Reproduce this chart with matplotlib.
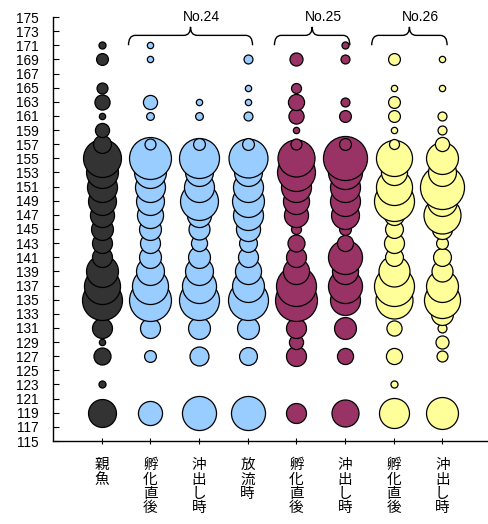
import matplotlib
matplotlib.use("Agg")
import matplotlib.pyplot as plt
from matplotlib.path import Path
from matplotlib.patches import PathPatch
import numpy as np

plt.rcParams['font.family'] = ['Liberation Sans', 'Noto Sans CJK JP', 'DejaVu Sans']

# body length classes (odd values 119..171)
lengths = list(range(119, 172, 2))

categories = ["親魚", "孵化直後", "沖出し時", "放流時", "孵化直後", "沖出し時", "孵化直後", "沖出し時"]

# relative frequencies (bubble area) per length class, ordered 119 -> 171
oyauo      = [7.8,0,0.5,0,2.9,0.4,4.0,0,16.0,13.0,10.2,4.0,4.0,4.8,5.8,7.8,9.0,10.2,14.4,3.2,2.0,0.4,2.3,1.2,0,1.4,0.5]
no24_fuka  = [5.8,0,0,0,1.4,0,4.0,0,17.6,13.0,7.8,4.8,4.0,4.8,6.8,7.8,9.0,10.2,17.6,1.2,0,0.6,2.0,0,0,0.4,0.4]
no24_okida = [11.6,0,0,0,3.6,0,4.8,0,16.0,11.6,7.8,4.8,2.6,4.4,5.8,14.4,9.0,7.8,16.0,1.4,0,0.6,0.4,0,0,0,0]
no24_horyu = [11.6,0,0,0,3.2,0,4.8,0,16.0,10.2,6.8,4.0,3.2,5.8,9.0,10.2,9.0,7.8,15.2,1.4,0,0.8,0.4,0.4,0,0.8,0]
no25_fuka  = [4.0,0,0,0,4.0,2.0,4.0,0,17.6,16.0,6.8,4.0,2.9,1.0,5.8,6.8,9.0,14.4,13.7,1.2,0.4,2.3,2.6,1.0,0,1.7,0]
no25_okida = [7.3,0,0,0,2.6,0,4.8,0,9.0,11.6,6.8,11.6,2.6,1.4,7.8,9.0,9.0,11.6,19.4,1.4,0,1.4,0.8,0,0,0.8,0.5]
no26_fuka  = [9.0,0,0.5,0,2.6,0,2.3,0,13.7,16.0,9.6,3.2,4.0,3.2,4.0,16.0,13.0,6.8,13.0,1.0,0.4,1.4,1.4,0.4,0,1.4,0]
no26_okida = [10.2,0,0,0,1.2,1.7,0.8,4.8,13.0,10.2,4.4,3.2,1.4,4.0,13.7,9.0,19.4,7.8,10.2,2.0,0.8,0.8,0,0.4,0,0.4,0]

series = [oyauo, no24_fuka, no24_okida, no24_horyu, no25_fuka, no25_okida, no26_fuka, no26_okida]
colors = ["#333333", "#99CCFF", "#99CCFF", "#99CCFF", "#993366", "#993366", "#FFFF99", "#FFFF99"]

groups = [("No.24", 2, 4), ("No.25", 5, 6), ("No.26", 7, 8)]

W, H = 489, 524
fig = plt.figure(figsize=(W / 100, H / 100), dpi=100)
ax = fig.add_axes([53.1 / W, 1 - 441 / H, 437.8 / W, (441 - 17) / H])

scale = 51.84
for i, (vals, col) in enumerate(zip(series, colors)):
    for L, v in zip(lengths, vals):
        if v > 0:
            ax.scatter([i + 1], [L], s=v * scale, c=col, edgecolors="black", linewidths=0.9, zorder=3)

ax.set_xlim(0, 9)
ax.set_ylim(115, 175)
ax.set_yticks(range(115, 176, 2))
ax.set_xticks(range(1, len(categories) + 1))
ax.set_xticklabels(["\n".join(c) for c in categories], fontsize=10.5, linespacing=1.02,
                   family=['Noto Sans CJK JP', 'DejaVu Sans'])
ax.tick_params(axis='y', direction='in', length=4, width=0.8, labelsize=9.8, pad=10.5)
ax.tick_params(axis='x', direction='inout', length=5, width=0.8, pad=10)
for lab in ax.get_xticklabels():
    lab.set_verticalalignment('top')
ax.spines['top'].set_visible(False)
ax.spines['right'].set_visible(False)
ax.spines['left'].set_linewidth(1.0)
ax.spines['bottom'].set_linewidth(1.0)

# curly braces above groups
def brace(ax, x0, x1, yb, yt, yp):
    xc = (x0 + x1) / 2
    r = 0.14
    verts = [(x0, yb), (x0, yt), (x0 + r, yt), (x0 + r, yt),
             (xc - r, yt), (xc, yt), (xc, yp),
             (xc, yt), (xc + r, yt), (xc + r, yt),
             (x1 - r, yt), (x1, yt), (x1, yb)]
    codes = [Path.MOVETO, Path.CURVE3, Path.CURVE3, Path.LINETO,
             Path.LINETO, Path.CURVE3, Path.CURVE3,
             Path.CURVE3, Path.CURVE3, Path.LINETO,
             Path.LINETO, Path.CURVE3, Path.CURVE3]
    p = PathPatch(Path(verts, codes), fill=False, lw=1.0, ec="black", clip_on=False)
    ax.add_patch(p)

for name, a, b in groups:
    x0, x1 = a - 0.45, b + 0.1
    brace(ax, x0, x1, 171.0, 172.4, 173.6)
    xc = (x0 + x1) / 2
    ax.text(xc - 0.15, 175.0, name, ha='left', va='center', fontsize=10, clip_on=False)

fig.savefig("out.png", dpi=100)
